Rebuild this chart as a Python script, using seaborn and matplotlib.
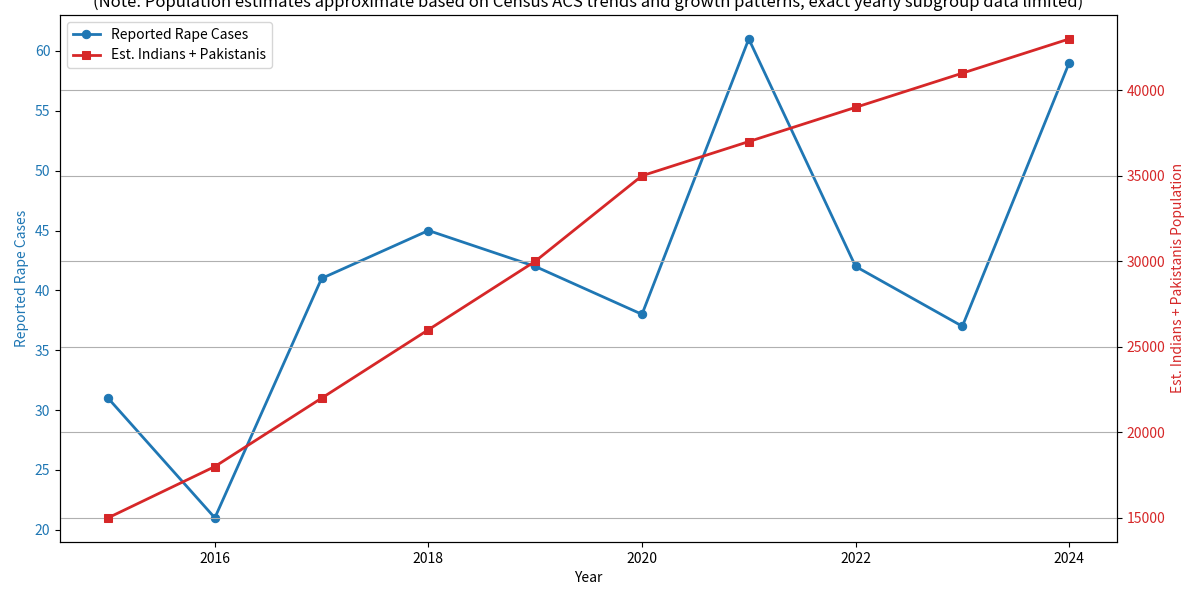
#Importing libraries
import pandas as pd
import matplotlib
matplotlib.use('Agg')
import matplotlib.pyplot as plt
import seaborn as sns

plt.rcParams['font.family'] = ['Noto Sans CJK JP', 'DejaVu Sans']

#Data
years = [2015, 2016, 2017, 2018, 2019, 2020, 2021, 2022, 2023, 2024]
rape_cases = [31, 21, 41, 45, 42, 38, 61, 42, 37, 59]
population = [15000, 18000, 22000, 26000, 30000, 35000, 37000, 39000, 41000, 43000]

df = pd.DataFrame({'Year': years, 'Cases': rape_cases, 'Population': population})

fig, ax1 = plt.subplots(figsize=(12, 6), dpi=100)

#Left axis - reported cases
sns.lineplot(x='Year', y='Cases', data=df, ax=ax1, color='tab:blue',
             marker='o', markeredgecolor='tab:blue', linewidth=2,
             label='Reported Rape Cases')
ax1.set_xlabel('Year')
ax1.set_ylabel('Reported Rape Cases', color='tab:blue')
ax1.tick_params(axis='y', labelcolor='tab:blue')

#Right axis - population estimate
ax2 = ax1.twinx()
sns.lineplot(x='Year', y='Population', data=df, ax=ax2, color='tab:red',
             marker='s', markeredgecolor='tab:red', linewidth=2,
             label='Est. Indians + Pakistanis')
ax2.set_ylabel('Est. Indians + Pakistanis Population', color='tab:red')
ax2.tick_params(axis='y', labelcolor='tab:red')
ax2.grid(True)

#Combined legend
h1, l1 = ax1.get_legend_handles_labels()
h2, l2 = ax2.get_legend_handles_labels()
ax2.get_legend().remove()
ax1.legend(h1 + h2, l1 + l2, loc='upper left')

ax1.set_title('(Note: Population estimates approximate based on Census ACS trends and growth patterns, '
              'exact yearly subgroup data limited)', fontsize=12)

plt.subplots_adjust(left=0.05, right=0.931, top=0.975, bottom=0.097)
plt.savefig('out.png')
plt.close()
